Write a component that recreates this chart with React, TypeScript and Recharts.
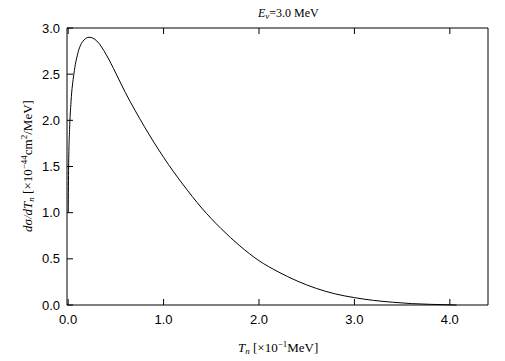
import React from "react";
import { LineChart, Line, XAxis, YAxis } from "recharts";

const tValues = [0.001, 0.005, 0.015, 0.03, 0.06, 0.1, 0.15, 0.22, 0.3, 0.4, 0.5, 0.6, 0.7, 0.8, 0.9, 1.0, 1.1, 1.2, 1.4, 1.6, 1.8, 2.0, 2.2, 2.4, 2.6, 2.8, 3.0, 3.2, 3.4, 3.6, 3.8, 4.0, 4.07];
const sigmaValues = [1.0, 1.5, 1.9, 2.2, 2.5, 2.72, 2.85, 2.9, 2.86, 2.71, 2.51, 2.3, 2.11, 1.93, 1.76, 1.6, 1.45, 1.31, 1.05, 0.83, 0.64, 0.48, 0.36, 0.26, 0.18, 0.12, 0.08, 0.05, 0.03, 0.015, 0.007, 0.002, 0.0];
const xTicks = [0, 1, 2, 3, 4];
const yTicks = [0, 0.5, 1.0, 1.5, 2.0, 2.5, 3.0];

const data = tValues.map((t, i) => ({ t, s: sigmaValues[i] }));

const W = 505;
const H = 361;
const tickFont = { fontFamily: "Liberation Sans, Arial, sans-serif", fontSize: 13, fill: "#000" };
const hiddenTick = { fontSize: 0, fill: "none" };
const serif = "Liberation Serif, Times New Roman, serif";

export default function App() {
  return (
    <div style={{ position: "absolute", left: 0, top: 0, width: W, height: H, background: "#fff" }}>
      <LineChart width={W} height={H} data={data} margin={{ top: 27, right: 16, bottom: 0, left: 0 }}>
        <XAxis
          dataKey="t"
          type="number"
          domain={[-0.012, 4.4]}
          ticks={xTicks}
          tickFormatter={(v: number) => v.toFixed(1)}
          allowDataOverflow
          height={56}
          tickSize={-6}
          tickMargin={16}
          tick={tickFont}
          stroke="#000"
          tickLine={{ stroke: "#000" }}
          axisLine={{ stroke: "#000" }}
        />
        <XAxis
          xAxisId="top"
          dataKey="t"
          type="number"
          orientation="top"
          domain={[-0.012, 4.4]}
          ticks={xTicks}
          tickFormatter={() => ""}
          allowDataOverflow
          height={1}
          tickSize={-6}
          tick={hiddenTick}
          stroke="#000"
          tickLine={{ stroke: "#000" }}
          axisLine={{ stroke: "#000" }}
        />
        <YAxis
          type="number"
          domain={[0, 3]}
          ticks={yTicks}
          tickFormatter={(v: number) => v.toFixed(1)}
          width={67}
          tickSize={-6}
          tickMargin={13}
          tick={tickFont}
          stroke="#000"
          tickLine={{ stroke: "#000" }}
          axisLine={{ stroke: "#000" }}
        />
        <YAxis
          yAxisId="right"
          orientation="right"
          type="number"
          domain={[0, 3]}
          ticks={yTicks}
          tickFormatter={() => ""}
          width={1}
          tickSize={-6}
          tick={hiddenTick}
          stroke="#000"
          tickLine={{ stroke: "#000" }}
          axisLine={{ stroke: "#000" }}
        />
        <Line
          type="monotone"
          dataKey="s"
          stroke="#000"
          strokeWidth={1}
          dot={false}
          isAnimationActive={false}
        />
      </LineChart>
      <svg width={W} height={H} style={{ position: "absolute", left: 0, top: 0, pointerEvents: "none" }}>
        <text x={258} y={17} fontFamily={serif} fontSize={12} fill="#000">
          <tspan fontStyle="italic">E</tspan>
          <tspan fontSize={9} dy={2} fontStyle="italic">ν</tspan>
          <tspan dy={-2}>=3.0 MeV</tspan>
        </text>
        <text x={238} y={352} fontFamily={serif} fontSize={13} fill="#000">
          <tspan fontStyle="italic">T</tspan>
          <tspan fontSize={9} dy={2} fontStyle="italic">n</tspan>
          <tspan dy={-2}> [×10</tspan>
          <tspan fontSize={9} dy={-5}>−1</tspan>
          <tspan dy={5}>MeV]</tspan>
        </text>
        <text transform="translate(32,166) rotate(-90)" textAnchor="middle" fontFamily={serif} fontSize={13} fill="#000">
          <tspan fontStyle="italic">dσ/dT</tspan>
          <tspan fontSize={9} dy={2} fontStyle="italic">n</tspan>
          <tspan dy={-2}> [×10</tspan>
          <tspan fontSize={9} dy={-5}>−44</tspan>
          <tspan dy={5}>cm</tspan>
          <tspan fontSize={9} dy={-5}>2</tspan>
          <tspan dy={5}>/MeV]</tspan>
        </text>
      </svg>
    </div>
  );
}
